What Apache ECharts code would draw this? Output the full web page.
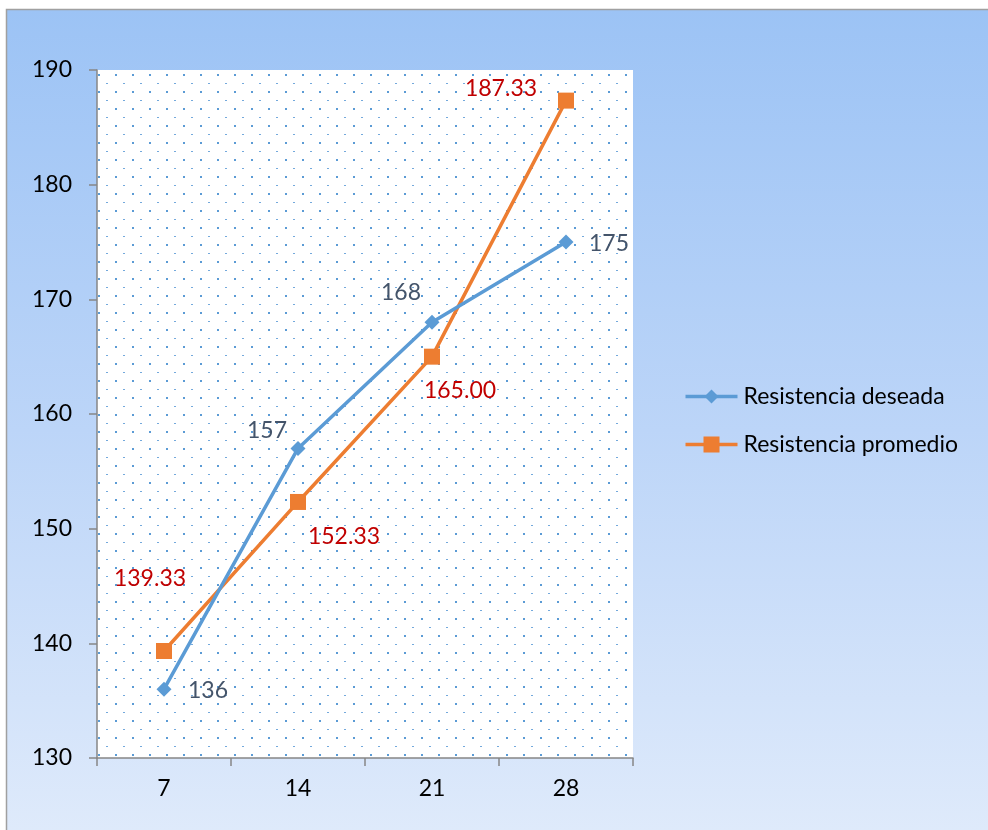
<!DOCTYPE html>
<html>
<head>
<meta charset="utf-8">
<script src="https://cdn.jsdelivr.net/npm/echarts@6/dist/echarts.min.js"></script>
<style>
  html, body { margin: 0; padding: 0; background: #ffffff; }
  #chart { width: 988px; height: 830px; }
</style>
</head>
<body>
<div id="chart"></div>
<script>
// Curing age (days) on the x axis
const categories = ['7', '14', '21', '28'];
// Target strength
const resistenciaDeseada = [136, 157, 168, 175];
// Average measured strength
const resistenciaPromedio = [139.33, 152.33, 165.00, 187.33];
// Value axis ticks
const yTicks = [130, 140, 150, 160, 170, 180, 190];
// Series names
const seriesNames = ['Resistencia deseada', 'Resistencia promedio'];

// Label offsets from each point (label centre minus point centre)
const deseadaLabelOffsets = [[44, 1], [-31, -18], [-31, -30], [43, 2]];
const promedioLabelOffsets = [[-14, -72], [46, 35], [28, 34], [-65, -12]];

const BLUE = '#5b9bd5';
const ORANGE = '#ed7d31';

// Dotted fill for the plot area: staggered dots on a 17px tile
function makeDotTile() {
  const c = document.createElement('canvas');
  c.width = 17; c.height = 17;
  const ctx = c.getContext('2d');
  ctx.fillStyle = '#ffffff';
  ctx.fillRect(0, 0, 17, 17);
  ctx.fillStyle = '#5b9bd5';
  ctx.fillRect(13, 6, 2, 2);
  ctx.fillStyle = '#74a9dc';
  ctx.fillRect(4, 15, 2, 1);
  return c;
}

const chart = echarts.init(document.getElementById('chart'), null, { renderer: 'canvas' });
const FONT = 'Lato, "Open Sans", sans-serif';
const FS = 23;

function buildData(values, offsets, color, fmt) {
  return values.map((v, i) => ({
    value: v,
    label: {
      show: true,
      position: 'inside',
      offset: offsets[i],
      color: color,
      fontSize: FS,
      fontFamily: FONT,
      formatter: () => fmt(v)
    }
  }));
}

// Legend: line sample with marker, then the series name
function legendRow(y, name, color, symbol, size) {
  return {
    type: 'group',
    left: 683,
    top: y - 12,
    children: [
      { type: 'line', shape: { x1: 0, y1: 12, x2: 52, y2: 12 }, style: { stroke: color, lineWidth: 3.5 } },
      symbol === 'diamond'
        ? { type: 'polygon', shape: { points: [[26, 12 - size / 2], [26 + size / 2, 12], [26, 12 + size / 2], [26 - size / 2, 12]] }, style: { fill: color } }
        : { type: 'rect', shape: { x: 26 - size / 2, y: 12 - size / 2, width: size, height: size }, style: { fill: color } },
      { type: 'text', x: 58, y: 12, style: { text: name, fill: '#000000', font: FS + 'px ' + FONT, verticalAlign: 'middle', align: 'left' } }
    ]
  };
}

chart.setOption({
  animation: false,
  graphic: [
    {
      type: 'rect',
      z: -10,
      silent: true,
      shape: { x: 6.5, y: 9.5, width: 1000, height: 840 },
      style: {
        fill: new echarts.graphic.LinearGradient(0, 0, 0, 1, [
          { offset: 0, color: '#9cc3f5' },
          { offset: 0.5, color: '#bcd5f8' },
          { offset: 1, color: '#e0ebfb' }
        ]),
        stroke: '#a0a0a0',
        lineWidth: 1.5
      }
    },
    legendRow(397, seriesNames[0], BLUE, 'diamond', 14),
    legendRow(445, seriesNames[1], ORANGE, 'rect', 16)
  ],
  grid: {
    left: 97, top: 70, width: 536, height: 688,
    show: true,
    borderWidth: 0,
    backgroundColor: { image: makeDotTile(), repeat: 'repeat' }
  },
  xAxis: {
    type: 'category',
    data: categories,
    boundaryGap: true,
    axisLine: { show: true, lineStyle: { color: '#868686', width: 1.5 } },
    axisTick: { show: true, length: 8, lineStyle: { color: '#868686', width: 1.5 } },
    axisLabel: { fontSize: FS, color: '#000000', fontFamily: FONT, margin: 19 },
    splitLine: { show: false }
  },
  yAxis: {
    type: 'value',
    min: yTicks[0],
    max: yTicks[yTicks.length - 1],
    interval: yTicks[1] - yTicks[0],
    axisLine: { show: true, lineStyle: { color: '#868686', width: 1.5 } },
    axisTick: { show: true, length: 8, lineStyle: { color: '#868686', width: 1.5 } },
    axisLabel: { fontSize: FS, color: '#000000', fontFamily: FONT, margin: 25 },
    splitLine: { show: false }
  },
  series: [
    {
      name: seriesNames[0],
      type: 'line',
      data: buildData(resistenciaDeseada, deseadaLabelOffsets, '#44546a', v => String(v)),
      symbol: 'diamond',
      symbolSize: 15,
      lineStyle: { color: BLUE, width: 3.5 },
      itemStyle: { color: BLUE },
      z: 3
    },
    {
      name: seriesNames[1],
      type: 'line',
      data: buildData(resistenciaPromedio, promedioLabelOffsets, '#c00000', v => v.toFixed(2)),
      symbol: 'rect',
      symbolSize: 16,
      lineStyle: { color: ORANGE, width: 3.5 },
      itemStyle: { color: ORANGE },
      z: 2
    }
  ]
});
</script>
</body>
</html>
